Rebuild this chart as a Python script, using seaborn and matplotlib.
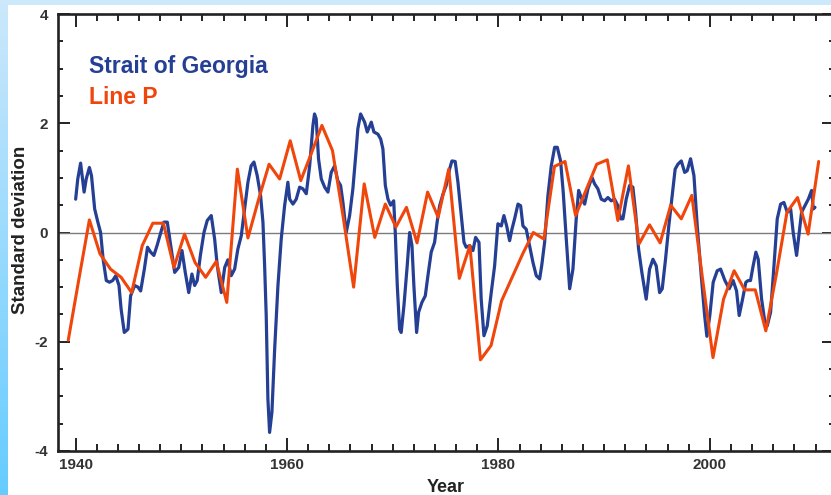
import numpy as np
import pandas as pd
import matplotlib
matplotlib.use("Agg")
import matplotlib.pyplot as plt
import seaborn as sns
from matplotlib.ticker import MultipleLocator, FixedLocator

# Strait of Georgia index (smoothed, sub-annual)
sog_year = [
    1940.0, 1940.2, 1940.47, 1940.8, 1941.0, 1941.3, 1941.5, 1941.8, 1942.1, 1942.36,
    1942.6, 1942.9, 1943.2, 1943.5, 1943.8, 1944.1, 1944.3, 1944.6, 1944.95, 1945.2,
    1945.58, 1945.9, 1946.15, 1946.5, 1946.8, 1947.1, 1947.4, 1947.7, 1948.1, 1948.35,
    1948.67, 1949.0, 1949.37, 1949.75, 1950.06, 1950.37, 1950.7, 1951.0, 1951.26, 1951.5,
    1951.8, 1952.14, 1952.45, 1952.83, 1953.15, 1953.4, 1953.78, 1954.1, 1954.4, 1954.72,
    1955.04, 1955.35, 1955.67, 1955.99, 1956.3, 1956.6, 1956.87, 1957.18, 1957.5, 1957.72,
    1957.88, 1958.03, 1958.19, 1958.35, 1958.57, 1958.83, 1959.14, 1959.45, 1959.77, 1960.08,
    1960.25, 1960.56, 1960.87, 1961.19, 1961.5, 1961.82, 1962.14, 1962.45, 1962.6, 1962.76,
    1962.98, 1963.24, 1963.56, 1963.87, 1964.18, 1964.5, 1964.8, 1965.07, 1965.29, 1965.6,
    1965.92, 1966.23, 1966.55, 1966.7, 1966.96, 1967.34, 1967.59, 1967.97, 1968.22, 1968.6,
    1968.86, 1969.07, 1969.3, 1969.55, 1969.8, 1970.09, 1970.24, 1970.43, 1970.65, 1970.8,
    1971.06, 1971.37, 1971.6, 1971.82, 1972.0, 1972.26, 1972.45, 1972.76, 1973.08, 1973.33,
    1973.64, 1973.96, 1974.2, 1974.44, 1974.75, 1975.06, 1975.38, 1975.6, 1975.91, 1976.17,
    1976.42, 1976.74, 1976.95, 1977.28, 1977.59, 1977.84, 1978.16, 1978.37, 1978.63, 1978.94,
    1979.32, 1979.64, 1979.95, 1980.27, 1980.52, 1980.78, 1981.06, 1981.28, 1981.53, 1981.85,
    1982.1, 1982.32, 1982.63, 1982.95, 1983.27, 1983.58, 1983.9, 1984.1, 1984.37, 1984.68,
    1985.0, 1985.32, 1985.57, 1985.88, 1986.13, 1986.42, 1986.74, 1987.05, 1987.36, 1987.59,
    1987.9, 1988.16, 1988.47, 1988.85, 1989.1, 1989.41, 1989.73, 1990.05, 1990.36, 1990.67,
    1990.99, 1991.3, 1991.56, 1991.78, 1992.09, 1992.41, 1992.72, 1992.98, 1993.26, 1993.57,
    1993.98, 1994.3, 1994.62, 1994.93, 1995.25, 1995.5, 1995.81, 1996.12, 1996.44, 1996.72,
    1996.98, 1997.3, 1997.62, 1997.86, 1998.18, 1998.5, 1998.81, 1999.19, 1999.51, 1999.72,
    2000.0, 2000.32, 2000.7, 2001.02, 2001.43, 2001.84, 2002.21, 2002.53, 2002.78, 2003.1,
    2003.41, 2003.63, 2003.85, 2004.1, 2004.36, 2004.58, 2004.9, 2005.21, 2005.43, 2005.75,
    2006.07, 2006.38, 2006.7, 2007.01, 2007.33, 2007.65, 2007.89, 2008.21, 2008.46, 2008.68,
    2009.0, 2009.32, 2009.63, 2009.79, 2009.95,
]
sog_value = [
    0.61, 0.98, 1.27, 0.74, 0.98, 1.19, 1.04, 0.43, 0.19, 0.00,
    -0.49, -0.88, -0.91, -0.88, -0.79, -0.97, -1.40, -1.83, -1.77, -1.16,
    -0.97, -1.00, -1.07, -0.67, -0.27, -0.36, -0.42, -0.24, 0.03, 0.19,
    0.19, -0.24, -0.73, -0.64, -0.33, -0.73, -1.10, -0.76, -0.97, -0.88,
    -0.42, 0.00, 0.22, 0.31, -0.12, -0.61, -1.10, -0.64, -0.50, -0.79,
    -0.67, -0.30, -0.06, 0.43, 0.92, 1.22, 1.29, 1.04, 0.67, 0.19,
    -0.61, -1.52, -3.05, -3.66, -3.29, -2.13, -0.97, -0.12, 0.49, 0.92,
    0.61, 0.52, 0.61, 0.83, 0.80, 0.71, 1.22, 1.96, 2.17, 2.08,
    1.35, 0.98, 0.83, 0.74, 1.10, 1.22, 0.95, 0.86, 0.55, 0.00,
    0.31, 0.80, 1.53, 1.90, 2.17, 2.02, 1.84, 2.02, 1.84, 1.80,
    1.71, 1.53, 0.86, 0.61, 0.50, 0.58, 0.00, -0.97, -1.77, -1.83,
    -1.34, -0.61, 0.00, -0.24, -0.97, -1.83, -1.46, -1.28, -1.16, -0.79,
    -0.36, -0.18, 0.19, 0.49, 0.70, 0.86, 1.16, 1.31, 1.30, 0.92,
    0.43, -0.18, -0.27, -0.24, -0.33, -0.09, -0.18, -1.22, -1.89, -1.71,
    -1.10, -0.61, 0.16, 0.12, 0.31, 0.12, -0.15, 0.06, 0.25, 0.52,
    0.49, 0.12, 0.06, -0.24, -0.55, -0.79, -0.85, -0.60, -0.18, 0.67,
    1.22, 1.56, 1.56, 1.31, 0.74, -0.12, -1.03, -0.67, 0.25, 0.77,
    0.61, 0.52, 0.80, 1.01, 0.89, 0.80, 0.61, 0.58, 0.64, 0.58,
    0.61, 0.49, 0.25, 0.25, 0.61, 0.86, 0.83, 0.37, -0.30, -0.73,
    -1.22, -0.67, -0.49, -0.61, -1.10, -1.03, -0.49, 0.12, 0.67, 1.16,
    1.25, 1.31, 1.10, 1.13, 1.35, 1.04, 0.12, -0.79, -1.52, -1.90,
    -1.52, -0.91, -0.70, -0.67, -0.88, -1.03, -0.88, -1.07, -1.52, -1.22,
    -0.91, -0.88, -0.88, -0.61, -0.36, -0.49, -1.22, -1.64, -1.71, -1.46,
    -0.61, 0.25, 0.52, 0.55, 0.37, 0.43, 0.00, -0.42, 0.00, 0.37,
    0.49, 0.61, 0.77, 0.43, 0.46,
]

# Line P annual anomalies
line_p_year = list(range(1939, 2011))
line_p_value = [
    -1.97, -0.86, 0.23, -0.39, -0.67, -0.82, -1.10, -0.24, 0.17, 0.17,
    -0.64, -0.03, -0.55, -0.82, -0.53, -1.28, 1.16, -0.10, 0.60, 1.25,
    0.98, 1.68, 0.95, 1.45, 1.96, 1.50, 0.30, -1.00, 0.89, -0.09,
    0.52, 0.10, 0.46, -0.19, 0.74, 0.28, 1.16, -0.84, -0.24, -2.33,
    -2.07, -1.25, -0.82, -0.39, 0.00, -0.12, 1.21, 1.30, 0.31, 0.78,
    1.25, 1.33, 0.22, 1.22, -0.21, 0.14, -0.19, 0.50, 0.25, 0.68,
    -0.83, -2.29, -1.22, -0.70, -1.05, -1.05, -1.80, -0.76, 0.37, 0.64,
    -0.03, 1.30,
]

series_names = ["Strait of Georgia", "Line P"]
x_tick_labels = ["1940", "1960", "1980", "2000"]
y_tick_labels = ["-4", "-2", "0", "2", "4"]

BLUE = "#243f93"
ORANGE = "#f0460c"
INK = "#222222"

sns.set_style("ticks")
plt.rcParams["font.family"] = ["Liberation Sans", "DejaVu Sans"]
plt.rcParams["font.weight"] = "bold"

fig = plt.figure(figsize=(8.31, 4.95), dpi=100, facecolor="white")

# light-blue frame: gradient strip on the left, pale band along the top
bg = fig.add_axes([0, 0, 1, 1], zorder=-5)
bg.set_xlim(0, 831)
bg.set_ylim(495, 0)
bg.axis("off")
grad = np.linspace(0, 1, 256).reshape(-1, 1)
top_rgb = np.array([0.80, 0.91, 0.985])
bot_rgb = np.array([0.40, 0.80, 1.0])
strip = top_rgb + (bot_rgb - top_rgb) * grad[:, :, None]
bg.imshow(strip, extent=[0, 8, 495, 0], aspect="auto")
bg.add_patch(plt.Rectangle((0, 0), 831, 5, color="#cce9fb", lw=0))

ax = fig.add_axes([58 / 831, 44 / 495, 776 / 831, 437 / 495])
ax.set_facecolor("white")

sog_df = pd.DataFrame({"year": sog_year, "value": sog_value})
# annual values sit a little after the start of each year
lp_df = pd.DataFrame({"year": np.array(line_p_year) + 0.3, "value": line_p_value})

ax.axhline(0, color="#7c7c7c", lw=1.0, zorder=1)
sns.lineplot(data=sog_df, x="year", y="value", ax=ax, color=BLUE, lw=2.3,
             estimator=None, sort=False, zorder=3)
sns.lineplot(data=lp_df, x="year", y="value", ax=ax, color=ORANGE, lw=2.2,
             estimator=None, sort=False, zorder=4)

ax.set_xlim(1938.33, 2011.75)
ax.set_ylim(-4, 4)

ax.xaxis.set_major_locator(FixedLocator([int(t) for t in x_tick_labels]))
ax.set_xticklabels(x_tick_labels)
ax.xaxis.set_minor_locator(MultipleLocator(2))
ax.yaxis.set_major_locator(FixedLocator([int(t) for t in y_tick_labels]))
ax.set_yticklabels(y_tick_labels)
ax.yaxis.set_minor_locator(MultipleLocator(0.5))

ax.tick_params(axis="x", which="major", direction="in", length=9.5, width=1.4,
               top=True, bottom=True, pad=5, labelsize=11, labelcolor="#333333",
               color=INK)
ax.tick_params(axis="x", which="minor", direction="in", length=5, width=1.4,
               top=True, bottom=True, color=INK)
ax.tick_params(axis="y", which="major", direction="in", length=8.5, width=1.4,
               left=True, right=True, pad=7, labelsize=11, labelcolor="#333333",
               color=INK)
ax.tick_params(axis="y", which="minor", direction="in", length=3.5, width=1.4,
               left=True, right=True, color=INK)
for lab in ax.get_xticklabels() + ax.get_yticklabels():
    lab.set_fontweight("bold")

for side in ["left", "right", "top", "bottom"]:
    ax.spines[side].set_visible(True)
    ax.spines[side].set_color(INK)
    ax.spines[side].set_linewidth(1.9)

ax.set_xlabel("Year", fontsize=13, fontweight="bold", color=INK)
ax.set_ylabel("Standard deviation", fontsize=13.5, fontweight="bold", color=INK)
ax.xaxis.set_label_coords(0.499, -0.064)
ax.yaxis.set_label_coords(-0.038, 0.505)

ax.text(0.04, 0.879, series_names[0], transform=ax.transAxes, color=BLUE,
        fontsize=16.5, fontweight="bold", va="center", ha="left")
ax.text(0.04, 0.81, series_names[1], transform=ax.transAxes, color=ORANGE,
        fontsize=16.5, fontweight="bold", va="center", ha="left")

fig.savefig("out.png", dpi=100, facecolor=fig.get_facecolor())
